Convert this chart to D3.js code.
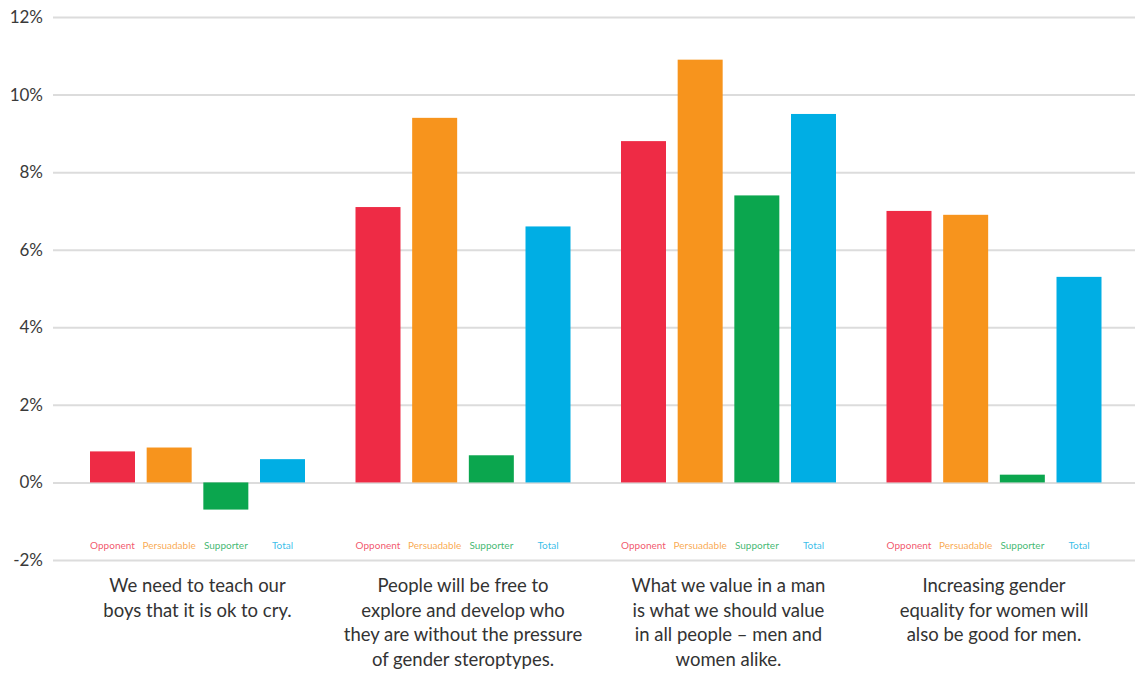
<!DOCTYPE html>
<html>
<head>
<meta charset="utf-8">
<script src="https://cdn.jsdelivr.net/npm/d3@7"></script>
<style>
  html, body { margin: 0; padding: 0; background: #fff; }
  svg { display: block; }
</style>
</head>
<body>
<svg id="chart" width="1135" height="674"></svg>
<script>
// Statements shown on the x axis, one line of text per entry
const statements = [
  ["We need to teach our", "boys that it is ok to cry."],
  ["People will be free to", "explore and develop who", "they are without the pressure", "of gender steroptypes."],
  ["What we value in a man", "is what we should value", "in all people \u2013 men and", "women alike."],
  ["Increasing gender", "equality for women will", "also be good for men."]
];

// Audience segments
const segments = ["Opponent", "Persuadable", "Supporter", "Total"];
const segmentColors = ["#ee2b45", "#f7941d", "#0ba64e", "#00aee4"];

// Percent values per segment, in statement order
const opponent    = [0.8, 7.1, 8.8, 7.0];
const persuadable = [0.9, 9.4, 10.9, 6.9];
const supporter   = [-0.7, 0.7, 7.4, 0.2];
const total       = [0.6, 6.6, 9.5, 5.3];

// Y axis ticks
const yTicks = [-2, 0, 2, 4, 6, 8, 10, 12];

const seriesValues = [opponent, persuadable, supporter, total];
const rows = statements.map((s, i) => ({
  idx: i,
  lines: s,
  values: segments.map((seg, j) => ({ seg, j, v: seriesValues[j][i] }))
}));

const svg = d3.select("#chart");
const font = "Lato, 'Noto Sans', sans-serif";

const y = d3.scaleLinear().domain([-2, 12]).range([560, 17]);
const x0 = d3.scaleBand().domain(d3.range(statements.length)).range([64.75, 1126.75]).padding(0);
const x1 = d3.scaleBand().domain(segments).range([25.25, x0.bandwidth() - 25.25])
  .paddingInner(0.206).paddingOuter(0);

// Gridlines and tick labels
const yAxis = d3.axisLeft(y).tickValues(yTicks).tickSize(-(1135 - 53)).tickPadding(10)
  .tickFormat(d => d + "%");
const gy = svg.append("g").attr("transform", "translate(53,0)").call(yAxis);
gy.select(".domain").remove();
gy.selectAll(".tick line").attr("stroke", "#dcdcdc").attr("stroke-width", 2);
gy.selectAll(".tick text")
  .attr("x", -10)
  .attr("fill", "#3a3a3a")
  .style("font-family", font)
  .style("font-size", "17px");

// Bars
const groups = svg.append("g").selectAll("g.grp")
  .data(rows).join("g")
  .attr("class", "grp")
  .attr("transform", d => `translate(${x0(d.idx)},0)`);

groups.selectAll("rect")
  .data(d => d.values).join("rect")
  .attr("x", d => x1(d.seg))
  .attr("width", x1.bandwidth())
  .attr("y", d => y(Math.max(0, d.v)))
  .attr("height", d => Math.abs(y(d.v) - y(0)))
  .attr("fill", d => segmentColors[d.j]);

// Segment labels under each bar
groups.selectAll("text.seg")
  .data(d => d.values).join("text")
  .attr("class", "seg")
  .attr("x", d => x1(d.seg) + x1.bandwidth() / 2)
  .attr("y", 549)
  .attr("text-anchor", "middle")
  .attr("fill", d => segmentColors[d.j])
  .attr("fill-opacity", 0.8)
  .style("font-family", font)
  .style("font-size", "10px")
  .text(d => d.seg);

// Statement text
groups.append("text")
  .attr("text-anchor", "middle")
  .attr("fill", "#333")
  .style("font-family", font)
  .style("font-size", "18.5px")
  .selectAll("tspan")
  .data(d => d.lines).join("tspan")
  .attr("x", x0.bandwidth() / 2)
  .attr("y", (d, i) => 592 + i * 24.5)
  .text(d => d);
</script>
</body>
</html>
